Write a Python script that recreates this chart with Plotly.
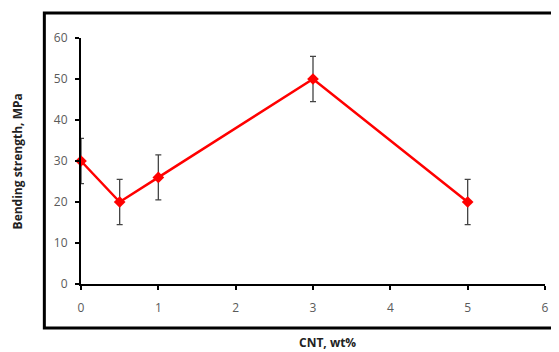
import plotly.graph_objects as go

cnt = [0, 0.5, 1, 3, 5]
strength = [30, 20, 26, 50, 20]
err = [5.5, 5.5, 5.5, 5.5, 5.5]
x_ticks = [0, 1, 2, 3, 4, 5, 6]
y_ticks = [0, 10, 20, 30, 40, 50, 60]

fig = go.Figure()
fig.add_trace(go.Scatter(
    x=cnt, y=strength, mode="lines+markers",
    line=dict(color="#ff0000", width=2.5),
    marker=dict(symbol="diamond", size=9, color="#ff0000"),
    error_y=dict(type="data", array=err, visible=True, color="#444444", thickness=1.3, width=3),
    cliponaxis=False, showlegend=False,
))

fig.update_layout(
    width=551, height=344,
    margin=dict(l=73, r=10, t=30, b=68),
    paper_bgcolor="white", plot_bgcolor="white",
    font=dict(family="Open Sans", size=12, color="#5a5a5a"),
    xaxis=dict(range=[0, 6], tickvals=x_ticks, showline=True, linecolor="black", linewidth=2,
               ticks="outside", ticklen=4, tickwidth=2, tickcolor="black", showgrid=False, zeroline=False,
               ticklabelstandoff=8, tickfont=dict(size=12, color="#5a5a5a")),
    yaxis=dict(range=[0, 60], tickvals=y_ticks, showline=True, linecolor="black", linewidth=2,
               ticks="outside", ticklen=4, tickwidth=2, tickcolor="black", showgrid=False, zeroline=False,
               ticklabelstandoff=5, tickfont=dict(size=12, color="#5a5a5a")),
    shapes=[dict(type="rect", xref="paper", yref="paper", x0=-0.079, x1=1.2, y0=-0.179, y1=1.102,
                 line=dict(color="black", width=3))],
    annotations=[
        dict(text="<b>CNT, wt%</b>", xref="paper", yref="paper", x=0.532, y=-0.236, showarrow=False,
             xanchor="center", yanchor="middle", font=dict(size=12, color="#222222")),
        dict(text="<b>Bending strength, MPa</b>", xref="paper", yref="paper", x=-0.137, y=0.5, showarrow=False,
             textangle=-90, xanchor="center", yanchor="middle", font=dict(size=12, color="#222222")),
    ],
)

fig.write_html("out.html")
